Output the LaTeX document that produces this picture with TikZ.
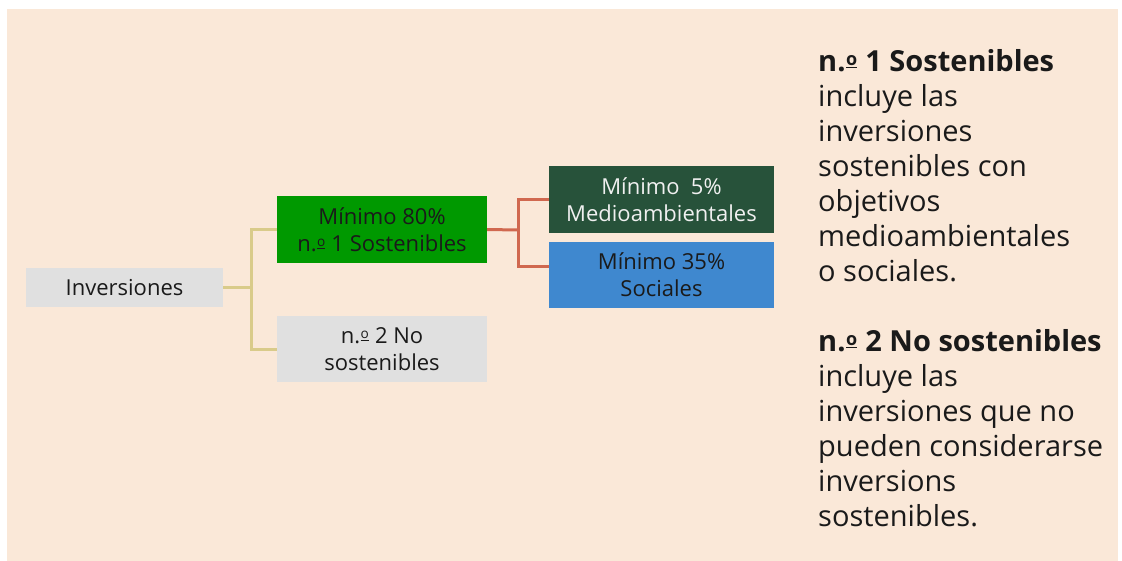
\documentclass[tikz,border=0pt]{standalone}
\usepackage{fontspec}
\usepackage{graphicx}
\setmainfont{Open Sans}
\usetikzlibrary{calc}
\definecolor{bgbeige}{HTML}{FAE8D8}
\definecolor{boxgrey}{HTML}{E0E0E0}
\definecolor{boxgreen}{HTML}{009900}
\definecolor{boxdark}{HTML}{27523A}
\definecolor{boxblue}{HTML}{3F88CF}
\definecolor{linetan}{HTML}{D9CB8A}
\definecolor{linered}{HTML}{D0684F}
\definecolor{txt}{HTML}{1A1A1A}
\newcommand{\myordm}{{\setbox0=\hbox{\scalebox{0.62}{o}}\kern0.02em\makebox[\wd0][l]{\raisebox{0.2em}{\copy0}}\llap{\rule[0.1em]{\wd0}{0.05em}}\kern0.02em}}
\tikzset{
  box/.style={rectangle, inner sep=0pt, align=center, text=txt,
    font=\fontsize{22}{27}\selectfont},
  tanline/.style={draw=linetan, line width=3pt},
  redline/.style={draw=linered, line width=3pt},
}
\begin{document}
\begin{tikzpicture}[x=1pt,y=-1pt]
\useasboundingbox (0,0) rectangle (1122,560);
\fill[bgbeige] (7,9) rectangle (1118,562);

\node[box, fill=boxgrey, minimum width=197pt, minimum height=39pt] (inv) at (124.5,287.5) {Inversiones};
\node[box, fill=boxgreen, minimum width=210pt, minimum height=67pt] (b1) at (382,229.5) {Mínimo 80\%\\n.\myordm{} 1 Sostenibles};
\node[box, fill=boxgrey, minimum width=210pt, minimum height=66pt] (b2) at (382,349) {n.\myordm{} 2 No\\sostenibles};
\node[box, fill=boxdark, text=white!94!black, minimum width=225pt, minimum height=67pt] (b3) at (661.5,199.5) {Mínimo\ \ 5\%\\Medioambientales};
\node[box, fill=boxblue, minimum width=225pt, minimum height=66pt] (b4) at (661.5,275) {Mínimo 35\%\\Sociales};

\coordinate (j1) at (251,287.5);
\coordinate (j2) at (518,230);
\draw[tanline] (inv.east) -- (j1);
\draw[tanline] (b1.west) -| (j1) |- (b2.west);
\draw[redline] (b1.east) -- (j2);
\draw[redline] (b3.west) -| (j2) |- ([yshift=9pt]b4.west);

\node[anchor=north west, inner sep=0pt, align=left, text=txt,
  font=\fontsize{29}{35}\selectfont] (legend) at (818,49)
  {\textbf{n.\myordm{} 1 Sostenibles}\\incluye las\\inversiones\\sostenibles con\\objetivos\\medioambientales\\o sociales.\\[35pt]\textbf{n.\myordm{} 2 No sostenibles}\\incluye las\\inversiones que no\\pueden considerarse\\inversions\\sostenibles.};
\end{tikzpicture}
\end{document}
